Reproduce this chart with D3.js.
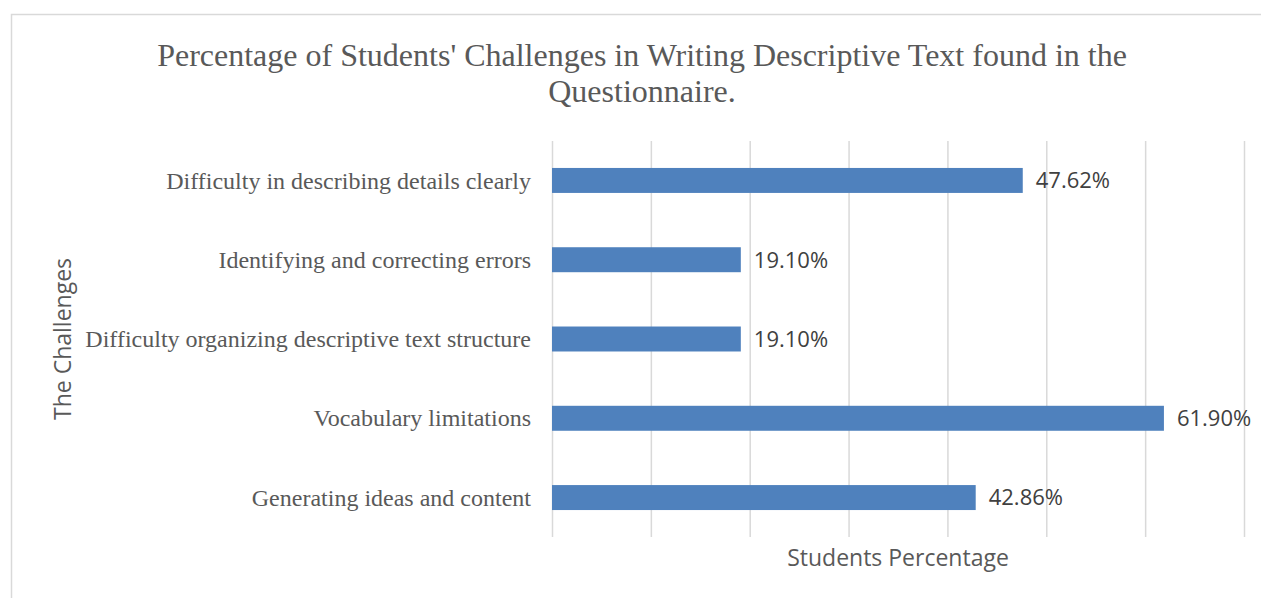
<!DOCTYPE html>
<html>
<head>
<meta charset="utf-8">
<script src="https://cdn.jsdelivr.net/npm/d3@7"></script>
<style>
  body { margin: 0; background: #fff; }
</style>
</head>
<body>
<svg width="1261" height="598"></svg>
<script>
// data (listed top to bottom as in the picture)
var challenges = [
  "Difficulty in describing details clearly",
  "Identifying and correcting errors",
  "Difficulty organizing descriptive text structure",
  "Vocabulary limitations",
  "Generating ideas and content"
];
var percentages = [47.62, 19.10, 19.10, 61.90, 42.86];
var xTicks = [0, 10, 20, 30, 40, 50, 60, 70];

var titleLines = ["Percentage of Students' Challenges in Writing Descriptive Text found in the", "Questionnaire."];

var margin = {top: 141, left: 552, right: 17, bottom: 61},
    width = 1261 - margin.left - margin.right,
    height = 598 - margin.top - margin.bottom;

var svg = d3.select("svg");

// chart frame
svg.append("rect")
    .attr("x", 11.5).attr("y", 14.5)
    .attr("width", 1300).attr("height", 700)
    .style("fill", "none")
    .style("stroke", "#d9d9d9")
    .style("stroke-width", "1.5px");

// title
svg.append("text")
    .attr("x", 642).attr("y", 66)
    .attr("text-anchor", "middle")
    .style("font-family", "'Liberation Serif', serif")
    .style("font-size", "32px")
    .style("fill", "#595959")
    .selectAll("tspan")
    .data(titleLines)
    .enter().append("tspan")
    .attr("x", 642)
    .attr("dy", (d, i) => i == 0 ? 0 : 36)
    .text(d => d);

var g = svg.append("g")
    .attr("transform", "translate(" + margin.left + "," + margin.top + ")");

var x = d3.scaleLinear()
    .domain([0, 70])
    .range([0, width]);

var y = d3.scaleBand()
    .domain(challenges)
    .range([0, height])
    .paddingInner(0.685)
    .paddingOuter(0.34);

// gridlines (no tick labels in the reference)
g.append("g")
    .attr("transform", "translate(0," + height + ")")
    .call(d3.axisBottom(x).tickValues(xTicks).tickSize(height).tickFormat(""))
    .call(a => a.select(".domain").remove())
    .call(a => a.selectAll(".tick line")
        .attr("y1", 0).attr("y2", -height)
        .style("stroke", "#d9d9d9").style("stroke-width", "1.5px"));

// bars
g.selectAll(".bar")
    .data(percentages)
    .enter().append("rect")
    .attr("class", "bar")
    .attr("x", x(0))
    .attr("y", (d, i) => y(challenges[i]))
    .attr("width", d => x(d) - x(0))
    .attr("height", y.bandwidth())
    .style("fill", "#4f81bd");

// value labels
g.selectAll(".lbl")
    .data(percentages)
    .enter().append("text")
    .attr("class", "lbl")
    .attr("x", d => x(d) + 13)
    .attr("y", (d, i) => y(challenges[i]) + y.bandwidth() / 2)
    .attr("dy", "0.36em")
    .style("font-family", "'Open Sans', sans-serif")
    .style("font-size", "22px")
    .style("fill", "#404040")
    .text(d => d.toFixed(2) + "%");

// category axis
g.append("g")
    .call(d3.axisLeft(y).tickSize(0).tickPadding(21))
    .call(a => a.select(".domain").remove())
    .call(a => a.selectAll("text")
        .attr("dy", "0.34em")
        .style("font-family", "'Liberation Serif', serif")
        .style("font-size", "24px")
        .style("fill", "#595959"));

// axis titles
svg.append("text")
    .attr("x", margin.left + width / 2).attr("y", 566)
    .attr("text-anchor", "middle")
    .style("font-family", "'Open Sans', sans-serif")
    .style("font-size", "23px")
    .style("fill", "#595959")
    .text("Students Percentage");

svg.append("text")
    .attr("transform", "translate(71," + (margin.top + height / 2) + ") rotate(-90)")
    .attr("text-anchor", "middle")
    .style("font-family", "'Open Sans', sans-serif")
    .style("font-size", "23px")
    .style("fill", "#595959")
    .text("The Challenges");
</script>
</body>
</html>
